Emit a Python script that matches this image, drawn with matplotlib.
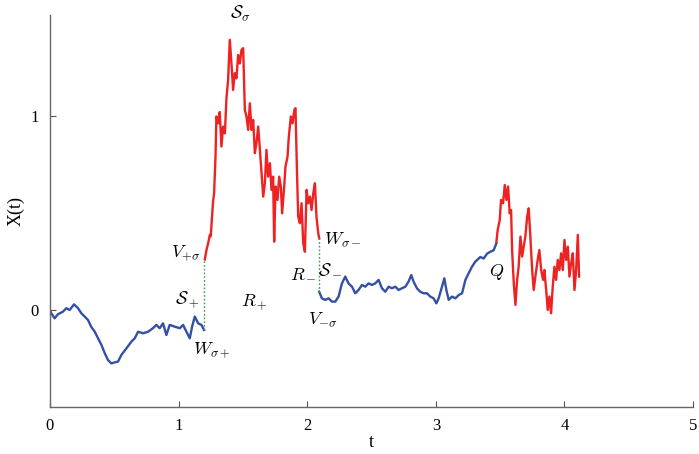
#!/usr/bin/env python3
# Sample path X(t) with switching regimes (blue / red pieces joined by dotted jumps)

import matplotlib
matplotlib.use("Agg")
import matplotlib.pyplot as plt

# ---------------------------------------------------------------- DATA
# first blue piece, t in [0, 1.2]
t_blue1 = [0.0, 0.01, 0.036, 0.062, 0.10, 0.127, 0.153, 0.187, 0.218, 0.244, 0.27, 0.296,
           0.32, 0.348, 0.374, 0.40, 0.426, 0.451, 0.477, 0.503, 0.529, 0.555, 0.594,
           0.633, 0.659, 0.685, 0.724, 0.763, 0.80, 0.827, 0.853, 0.879, 0.905, 0.931,
           0.97, 1.009, 1.035, 1.061, 1.087, 1.105, 1.126, 1.152, 1.178, 1.198]
x_blue1 = [0.0, -0.017, -0.043, -0.022, -0.009, 0.009, 0.0, 0.029, 0.009, -0.017, -0.034,
           -0.052, -0.086, -0.112, -0.146, -0.18, -0.223, -0.258, -0.275, -0.27, -0.266,
           -0.232, -0.198, -0.163, -0.146, -0.112, -0.12, -0.112, -0.094, -0.077, -0.094,
           -0.069, -0.129, -0.077, -0.086, -0.094, -0.077, -0.112, -0.146, -0.086, -0.034,
           -0.069, -0.077, -0.103]

# first red piece, t in [1.2, 2.09]
t_red1 = [1.204, 1.217, 1.23, 1.243, 1.25, 1.26, 1.268, 1.276, 1.287, 1.294, 1.307, 1.32,
          1.333, 1.346, 1.36, 1.372, 1.385, 1.398, 1.411, 1.424, 1.437, 1.45, 1.463, 1.476,
          1.489, 1.502, 1.515, 1.528, 1.541, 1.554, 1.567, 1.58, 1.593, 1.605, 1.619, 1.632,
          1.645, 1.658, 1.671, 1.683, 1.696, 1.71, 1.722, 1.735, 1.743, 1.754, 1.769, 1.782,
          1.795, 1.805, 1.821, 1.831, 1.847, 1.857, 1.873, 1.886, 1.9, 1.909, 1.92, 1.93,
          1.943, 1.956, 1.969, 1.982, 1.995, 2.008, 2.021, 2.034, 2.047, 2.06, 2.072, 2.086,
          2.093]
x_red1 = [0.26, 0.31, 0.344, 0.387, 0.38, 0.48, 0.558, 0.601, 0.79, 0.997, 0.962, 1.02,
          0.842, 0.945, 0.91, 1.09, 1.186, 1.392, 1.27, 1.134, 1.22, 1.194, 1.314, 1.27,
          1.34, 1.349, 1.031, 0.997, 0.928, 1.065, 0.928, 0.979, 0.808, 0.859, 0.945, 0.825,
          0.705, 0.584, 0.653, 0.825, 0.687, 0.756, 0.619, 0.687, 0.352, 0.636, 0.567, 0.687,
          0.636, 0.498, 0.636, 0.739, 0.79, 0.893, 0.997, 0.962, 1.031, 1.04, 0.722, 0.481,
          0.447, 0.55, 0.344, 0.30, 0.619, 0.55, 0.584, 0.515, 0.601, 0.653, 0.481, 0.395,
          0.37]

# second blue piece, t in [2.09, 3.47]
t_blue2 = [2.093, 2.114, 2.14, 2.166, 2.192, 2.218, 2.244, 2.27, 2.296, 2.321, 2.348, 2.374,
           2.399, 2.426, 2.451, 2.477, 2.503, 2.529, 2.555, 2.581, 2.607, 2.633, 2.659,
           2.685, 2.711, 2.737, 2.763, 2.788, 2.809, 2.827, 2.853, 2.879, 2.905, 2.931,
           2.957, 2.983, 3.004, 3.022, 3.048, 3.066, 3.082, 3.10, 3.126, 3.152, 3.178,
           3.204, 3.23, 3.255, 3.281, 3.307, 3.346, 3.372, 3.398, 3.424, 3.45, 3.471]
x_blue2 = [0.094, 0.06, 0.052, 0.06, 0.043, 0.043, 0.069, 0.137, 0.172, 0.137, 0.12, 0.086,
           0.103, 0.129, 0.12, 0.137, 0.129, 0.137, 0.155, 0.112, 0.094, 0.12, 0.112, 0.12,
           0.103, 0.112, 0.12, 0.146, 0.18, 0.146, 0.112, 0.094, 0.086, 0.086, 0.069, 0.06,
           0.034, 0.06, 0.12, 0.163, 0.103, 0.052, 0.069, 0.06, 0.077, 0.086, 0.155, 0.189,
           0.223, 0.249, 0.273, 0.265, 0.29, 0.30, 0.308, 0.344]

# last red piece, t in [3.47, 4.11]
t_red2 = [3.471, 3.481, 3.497, 3.507, 3.523, 3.536, 3.549, 3.562, 3.574, 3.585, 3.593, 3.606,
          3.619, 3.632, 3.644, 3.658, 3.671, 3.683, 3.696, 3.71, 3.722, 3.735, 3.749, 3.761,
          3.774, 3.792, 3.805, 3.819, 3.834, 3.844, 3.858, 3.87, 3.883, 3.896, 3.909, 3.922,
          3.935, 3.948, 3.961, 3.974, 3.987, 4.0, 4.013, 4.026, 4.039, 4.052, 4.065, 4.078,
          4.091, 4.104, 4.114]
x_red2 = [0.352, 0.412, 0.464, 0.567, 0.55, 0.644, 0.567, 0.636, 0.498, 0.515, 0.309, 0.137,
          0.026, 0.155, 0.223, 0.378, 0.275, 0.326, 0.378, 0.481, 0.524, 0.378, 0.206, 0.103,
          0.172, 0.258, 0.309, 0.206, 0.155, 0.206, 0.103, 0.0, 0.069, -0.017, 0.12, 0.223,
          0.155, 0.258, 0.206, 0.292, 0.206, 0.361, 0.258, 0.326, 0.172, 0.24, 0.292, 0.103,
          0.206, 0.387, 0.172]

# dotted jumps between the pieces
jump_t = [1.2, 2.093]
jump_lo = [-0.103, 0.094]
jump_hi = [0.26, 0.37]

# text labels: (text, t, X, ha)
labels = [
    (r"$\mathcal{S}_\sigma$", 1.48, 1.53, "center"),
    (r"$V_{+\sigma}$", 1.17, 0.29, "right"),
    (r"$\mathcal{S}_+$", 1.07, 0.05, "center"),
    (r"$R_+$", 1.59, 0.04, "center"),
    (r"$W_{\sigma+}$", 1.26, -0.21, "center"),
    (r"$W_{\sigma-}$", 2.13, 0.36, "left"),
    (r"$\mathcal{S}_-$", 2.18, 0.215, "center"),
    (r"$R_-$", 1.97, 0.195, "center"),
    (r"$V_{-\sigma}$", 2.12, -0.05, "center"),
    (r"$Q$", 3.47, 0.195, "center"),
]

# ---------------------------------------------------------------- STYLE
plt.rcParams["font.family"] = ["Liberation Serif", "DejaVu Serif"]
plt.rcParams["mathtext.fontset"] = "cm"
blue = "#3450a5"
red = "#ee2222"
green = "#3a9a55"

fig = plt.figure(figsize=(6.99, 4.54), dpi=100)
ax = fig.add_axes([0.0715, 0.1035, 0.92, 0.8635])

ax.plot(t_blue1, x_blue1, color=blue, lw=1.7)
ax.plot(t_red1, x_red1, color=red, lw=1.7)
ax.plot(t_blue2, x_blue2, color=blue, lw=1.7)
ax.plot(t_red2, x_red2, color=red, lw=1.7)
for t, lo, hi in zip(jump_t, jump_lo, jump_hi):
    ax.plot([t, t], [lo, hi], color=green, lw=1.0, ls=(0, (1.2, 1.5)))

for txt, t, x, ha in labels:
    ax.text(t, x, txt, ha=ha, va="center", fontsize=13, clip_on=False)

ax.set_xlim(0, 5)
ax.set_ylim(-0.5, 1.52)
ax.set_xticks([0, 1, 2, 3, 4, 5])
ax.set_yticks([0, 1])
ax.tick_params(direction="in", length=4, labelsize=12, color="#555555", width=0.8)
ax.tick_params(axis="x", pad=8)
ax.tick_params(axis="y", pad=8)
for s in ["top", "right"]:
    ax.spines[s].set_visible(False)
for s in ["left", "bottom"]:
    ax.spines[s].set_color("#666666")
    ax.spines[s].set_linewidth(1.0)

ax.set_xlabel("t", fontsize=13, labelpad=0)
ax.set_ylabel("X(t)", fontsize=13, labelpad=4)

fig.savefig("out.png", dpi=100)
